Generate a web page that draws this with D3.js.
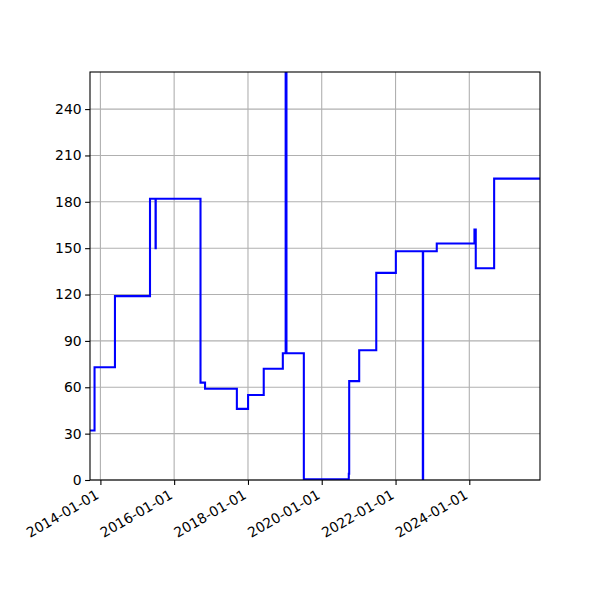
<!DOCTYPE html>
<html>
<head>
<meta charset="utf-8">
<script src="https://cdn.jsdelivr.net/npm/d3@7"></script>
<style>
  body { margin: 0; background: #fff; }
  text { font-family: "DejaVu Sans", sans-serif; }
</style>
</head>
<body>
<div id="chart"></div>
<script>
// step series, values hold until the next date
const dates = ["2013-09-20", "2013-11-04", "2014-05-25", "2015-05-07", "2015-07-01", "2015-07-03",
  "2016-09-18", "2016-11-02", "2017-09-13", "2018-01-02", "2018-06-06", "2018-12-12",
  "2019-01-09", "2019-01-17", "2019-07-08", "2020-09-25", "2020-09-29", "2021-01-06",
  "2021-06-24", "2022-01-04", "2022-09-28", "2022-10-01", "2023-02-13", "2024-02-21",
  "2024-03-05", "2024-09-03", "2025-12-01"];
const values = [32, 73, 119, 182, 150, 182, 63, 59, 46, 55, 72, 82,
  310, 82, 0.5, 4, 64, 84, 134, 148, 0, 148, 153, 162, 137, 195, 195];
const xTicks = ["2014-01-01", "2016-01-01", "2018-01-01", "2020-01-01", "2022-01-01", "2024-01-01"];
const yTicks = [0, 30, 60, 90, 120, 150, 180, 210, 240];

const parse = d3.utcParse("%Y-%m-%d");
const data = dates.map((d, i) => ({ date: parse(d), value: values[i] }));

const margin = { top: 72, right: 60, bottom: 120, left: 90 },
  width = 600 - margin.left - margin.right,
  height = 600 - margin.top - margin.bottom;

const svg = d3.select("#chart").append("svg")
  .attr("width", 600)
  .attr("height", 600)
  .append("g")
  .attr("transform", "translate(" + margin.left + "," + margin.top + ")");

const x = d3.scaleUtc()
  .domain([parse("2013-09-20"), parse("2025-12-01")])
  .range([0, width]);

const y = d3.scaleLinear()
  .domain([0, 264])
  .range([height, 0]);

// grid
svg.append("g")
  .selectAll("line.vg")
  .data(xTicks)
  .enter().append("line")
  .attr("x1", d => x(parse(d))).attr("x2", d => x(parse(d)))
  .attr("y1", 0).attr("y2", height)
  .attr("stroke", "#b0b0b0").attr("stroke-width", 1.1);

svg.append("g")
  .selectAll("line.hg")
  .data(yTicks)
  .enter().append("line")
  .attr("x1", 0).attr("x2", width)
  .attr("y1", d => y(d)).attr("y2", d => y(d))
  .attr("stroke", "#b0b0b0").attr("stroke-width", 1.1);

svg.append("clipPath").attr("id", "clip")
  .append("rect").attr("width", width).attr("height", height);

const line = d3.line()
  .x(d => x(d.date))
  .y(d => y(d.value))
  .curve(d3.curveStepAfter);

svg.append("path")
  .datum(data)
  .attr("clip-path", "url(#clip)")
  .attr("fill", "none")
  .attr("stroke", "#0000ff")
  .attr("stroke-width", 2.08)
  .attr("d", line);

// axes
const xAxis = d3.axisBottom(x)
  .tickValues(xTicks.map(parse))
  .tickFormat(d3.utcFormat("%Y-%m-%d"))
  .tickSize(4.9)
  .tickSizeOuter(0);

const gx = svg.append("g")
  .attr("transform", "translate(0," + height + ")")
  .call(xAxis);
gx.select(".domain").remove();
gx.selectAll("line").attr("stroke", "#000").attr("stroke-width", 1.1);
gx.selectAll("text")
  .attr("fill", "#000")
  .style("font-size", "13.9px")
  .style("text-anchor", "end")
  .attr("x", 0).attr("y", 0).attr("dy", "0.72em")
  .attr("transform", "translate(-6,9) rotate(-30)");

const yAxis = d3.axisLeft(y)
  .tickValues(yTicks)
  .tickSize(4.9)
  .tickPadding(3.5)
  .tickSizeOuter(0);

const gy = svg.append("g").call(yAxis);
gy.select(".domain").remove();
gy.selectAll("line").attr("stroke", "#000").attr("stroke-width", 1.1);
gy.selectAll("text").attr("fill", "#000").style("font-size", "13.9px");

svg.append("rect")
  .attr("width", width).attr("height", height)
  .attr("fill", "none").attr("stroke", "#000").attr("stroke-width", 1.1);
</script>
</body>
</html>
